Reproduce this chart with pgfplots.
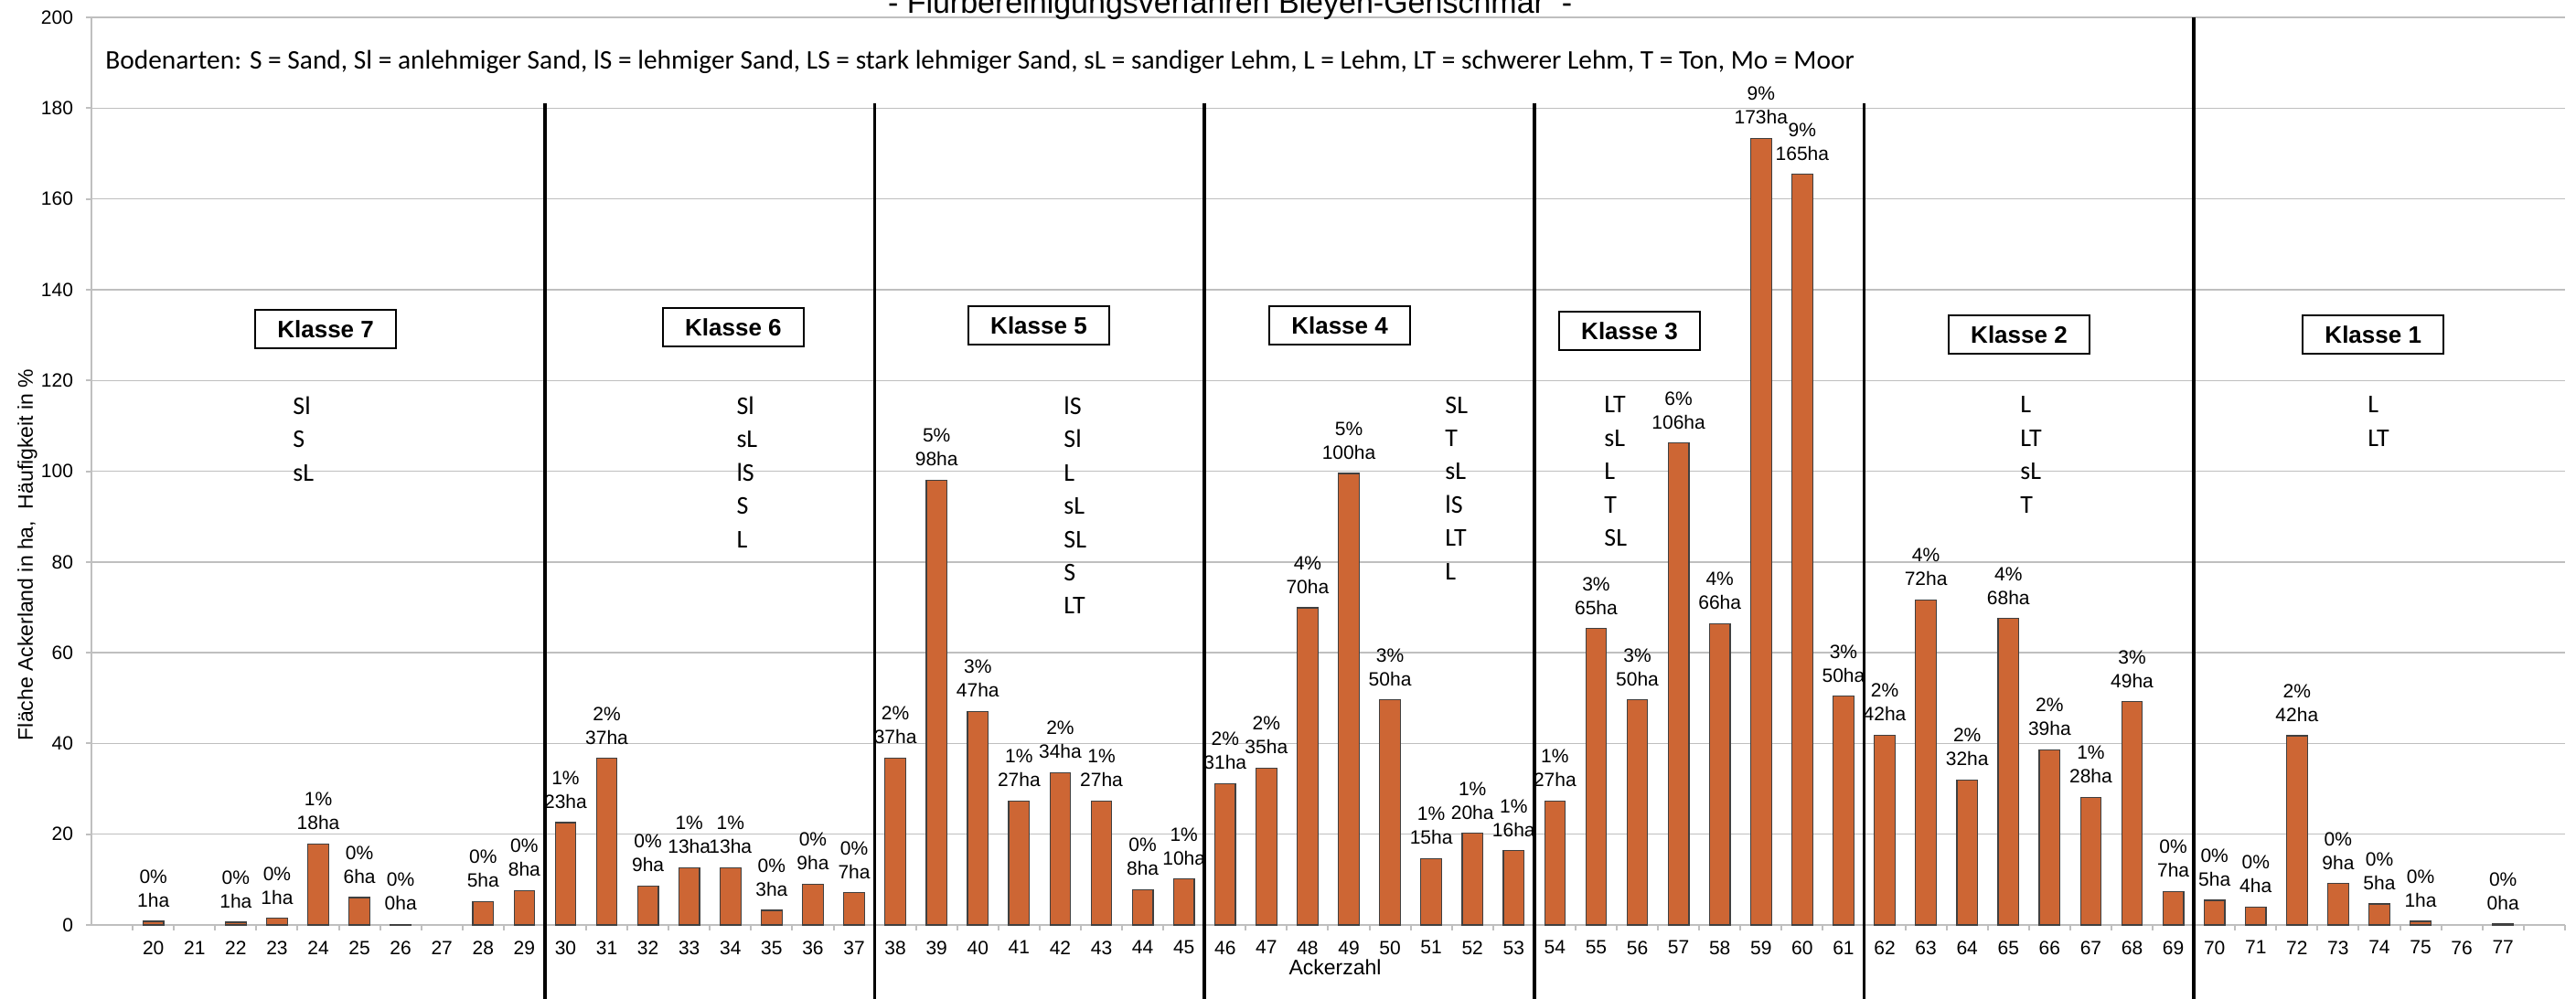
\documentclass[border=0pt]{standalone}
\usepackage{fontspec}
\setmainfont{Liberation Sans}
\newfontfamily\calibri{Carlito}
\usepackage{pgfplots}
\usepackage{pgfplotstable}
\pgfplotsset{compat=1.18}
\definecolor{barc}{RGB}{205,102,52}
\definecolor{gridc}{RGB}{191,191,191}

\pgfplotstableread{
x y pct ha
20 0.81 0 1
22 0.6 0 1
23 1.48 0 1
24 17.85 1 18
25 6.06 0 6
26 0.15 0 0
28 5.19 0 5
29 7.61 0 8
30 22.56 1 23
31 36.7 2 37
32 8.62 0 9
33 12.66 1 13
34 12.66 1 13
35 3.23 0 3
36 9.02 0 9
37 7.07 0 7
38 36.8 2 37
39 98.0 5 98
40 47.1 3 47
41 27.3 1 27
42 33.6 2 34
43 27.3 1 27
44 7.74 0 8
45 10.1 1 10
46 31.1 2 31
47 34.6 2 35
48 69.9 4 70
49 99.5 5 100
50 49.6 3 50
51 14.68 1 15
52 20.2 1 20
53 16.36 1 16
54 27.3 1 27
55 65.3 3 65
56 49.6 3 50
57 106.2 6 106
58 66.4 4 66
59 173.3 9 173
60 165.4 9 165
61 50.4 3 50
62 41.8 2 42
63 71.6 4 72
64 31.99 2 32
65 67.5 4 68
66 38.6 2 39
67 28.1 1 28
68 49.2 3 49
69 7.4 0 7
70 5.45 0 5
71 3.97 0 4
72 41.7 2 42
73 9.1 0 9
74 4.65 0 5
75 0.81 0 1
77 0.2 0 0
}\datatable

\begin{document}
\begin{tikzpicture}
\begin{axis}[
  scale only axis, width=1352.5pt, height=496.5pt,
  xmin=18.5, xmax=78.5, ymin=0, ymax=200,
  clip=false,
  axis x line=bottom, axis y line=left,
  axis line style={-, gridc, line width=1pt},
  xtick={20,...,77}, minor xtick={19.5,20.5,...,78.5},
  ytick={0,20,...,200},
  tick align=outside,
  major tick length=3pt, minor tick length=3pt,
  major x tick style={draw=none},
  minor x tick style={gridc, line width=1pt},
  major y tick style={gridc, line width=1pt},
  ymajorgrids, major grid style={gridc, line width=0.7pt},
  tick label style={font=\fontsize{10.5}{12}\selectfont},
  /pgf/number format/assume math mode=true,
  xticklabel style={yshift=-2.2pt},
  yticklabel style={xshift=-3.5pt},
  xlabel={Ackerzahl},
  xlabel style={at={(axis description cs:0.5028,-0.0463)}, anchor=center, font=\fontsize{11.5}{13}\selectfont},
  ylabel={Fläche Ackerland in ha,\ \ Häufigkeit in \%},
  ylabel style={at={(axis description cs:-0.0259,0.408)}, anchor=center, font=\fontsize{11.5}{13}\selectfont},
]
\addplot[ybar, bar width=11.3pt, fill=barc, draw=black!75, line width=0.6pt,
  point meta=\thisrow{ha},
  visualization depends on={\thisrow{pct} \as \mypct},
  nodes near coords={\pgfmathprintnumber[fixed,precision=0]{\mypct}\%\\\pgfmathprintnumber[fixed,precision=0]{\pgfplotspointmeta}ha},
  every node near coord/.append style={align=center, anchor=south, inner sep=0pt, yshift=7.4pt, black, font=\fontsize{10.5}{13}\selectfont}
] table[x=x, y=y] {\datatable};

\addplot[black, line width=1.75pt] coordinates {(29.5,181) (29.5,-16.5)};
\addplot[black, line width=1.75pt] coordinates {(37.5,181) (37.5,-16.5)};
\addplot[black, line width=1.75pt] coordinates {(45.5,181) (45.5,-16.5)};
\addplot[black, line width=1.75pt] coordinates {(53.5,181) (53.5,-16.5)};
\addplot[black, line width=1.75pt] coordinates {(61.5,181) (61.5,-16.5)};
\addplot[black, line width=1.75pt] coordinates {(69.5,200) (69.5,-16.5)};

\node[anchor=base, font=\fontsize{17}{20}\selectfont] at (axis cs:46.12,201.0) {- Flurbereinigungsverfahren Bleyen-Genschmar\ \ -};

\node[anchor=west, inner sep=0pt, font=\calibri\fontsize{14.7}{17}\selectfont] at (axis cs:18.83,190.2)
  {Bodenarten: S = Sand, Sl = anlehmiger Sand, lS = lehmiger Sand, LS = stark lehmiger Sand, sL = sandiger Lehm, L = Lehm, LT = schwerer Lehm, T = Ton, Mo = Moor};

\tikzset{klasse/.style={draw=black, line width=0.9pt, fill=white, minimum width=77pt, minimum height=21pt, inner sep=0pt, font=\bfseries\fontsize{13}{15}\selectfont},
  soil/.style={anchor=north west, align=left, inner sep=0pt, font=\calibri\fontsize{14}{18.2}\selectfont}}
\node[klasse] at (axis cs:24.18,131.3) {Klasse 7};
\node[klasse] at (axis cs:34.07,131.7) {Klasse 6};
\node[klasse] at (axis cs:41.48,132.1) {Klasse 5};
\node[klasse] at (axis cs:48.78,132.1) {Klasse 4};
\node[klasse] at (axis cs:55.81,130.9) {Klasse 3};
\node[klasse] at (axis cs:65.26,130.1) {Klasse 2};
\node[klasse] at (axis cs:73.85,130.1) {Klasse 1};

\node[soil] at (axis cs:23.38,116.5) {Sl\\S\\sL};
\node[soil] at (axis cs:34.14,116.5) {Sl\\sL\\lS\\S\\L};
\node[soil] at (axis cs:42.08,116.5) {lS\\Sl\\L\\sL\\SL\\S\\LT};
\node[soil] at (axis cs:51.33,116.5) {SL\\T\\sL\\lS\\LT\\L};
\node[soil] at (axis cs:55.19,116.5) {LT\\sL\\L\\T\\SL};
\node[soil] at (axis cs:65.28,116.5) {L\\LT\\sL\\T};
\node[soil] at (axis cs:73.71,116.5) {L\\LT};

\coordinate (bbll) at (axis cs:16.28,-16.31);
\coordinate (bbur) at (axis cs:78.77,203.83);
\end{axis}
\pgfresetboundingbox
\path[use as bounding box] (bbll) rectangle (bbur);
\end{tikzpicture}
\end{document}
